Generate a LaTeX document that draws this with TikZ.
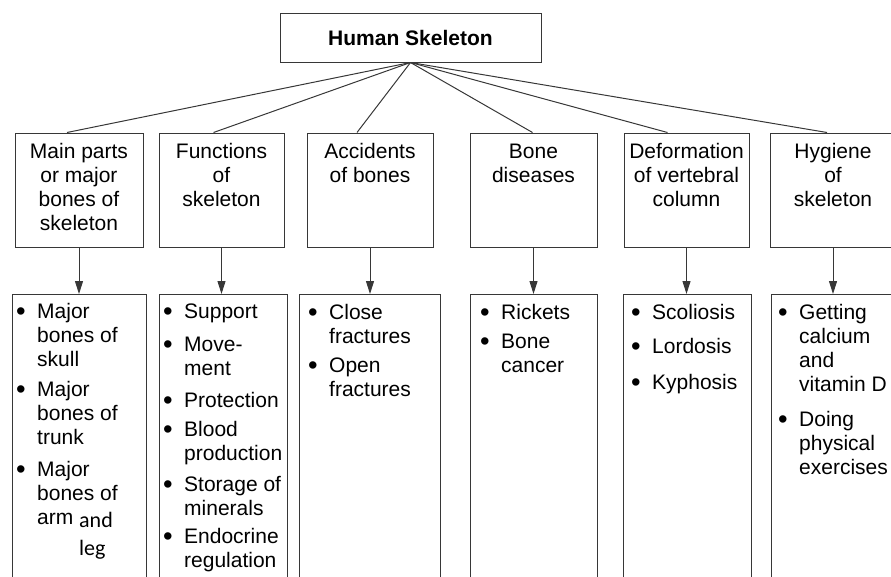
\documentclass[tikz,border=0pt]{standalone}
\usepackage{fontspec}
\setmainfont{Liberation Sans}
\newfontfamily\calibrifont{Carlito}
\usetikzlibrary{arrows.meta}
\definecolor{skLine}{RGB}{55,55,55}
\newlength{\bulw}
\setlength{\bulw}{21pt}
\newcommand{\itm}[1]{\makebox[\bulw][l]{\raisebox{-2.5pt}{\scalebox{1.3}{\textbullet}}}#1}
\newcommand{\cnt}[1]{\hspace*{\bulw}#1}
\tikzset{
  headbox/.style={rectangle, draw=skLine, line width=1pt, minimum width=261pt, minimum height=49pt, inner sep=0pt, font=\fontsize{21}{24}\selectfont\bfseries},
  topicbox/.style={rectangle, draw=skLine, line width=1pt, minimum width=#1, minimum height=114pt, inner sep=0pt},
  listbox/.style={rectangle, draw=skLine, line width=1pt, minimum width=#1, minimum height=310pt, anchor=north, inner sep=0pt},
  boxtext/.style={anchor=base, inner sep=0pt, font=\fontsize{21}{24}\selectfont},
  listtext/.style={anchor=base west, inner sep=0pt, font=\fontsize{21}{24}\selectfont},
  branch/.style={skLine, line width=1pt},
  downarrow/.style={-{Triangle[length=13pt,width=8pt]}, skLine, line width=1pt},
}

\begin{document}
\begin{tikzpicture}[x=1pt, y=-1pt]
  \useasboundingbox (0,0) rectangle (891,576);
  \clip (0,0) rectangle (891,576);

  % root
  \node[headbox] (head) at (410.5,37.5) {Human Skeleton};

  % topics
  \node[topicbox=128pt] (u1) at (79,190) {};
  \node[topicbox=125pt] (u2) at (221.5,190) {};
  \node[topicbox=126pt] (u3) at (370,190) {};
  \node[topicbox=127pt] (u4) at (533.5,190) {};
  \node[topicbox=125pt] (u5) at (686.5,190) {};
  \node[topicbox=126pt] (u6) at (833,190) {};

  \node[boxtext] (t1) at (79,158) {\parbox[t]{140pt}{\centering Main parts\\or major\\bones of\\skeleton}};
  \node[boxtext] (t2) at (221.5,158) {\parbox[t]{140pt}{\centering Functions\\of\\skeleton}};
  \node[boxtext] (t3) at (370,158) {\parbox[t]{140pt}{\centering Accidents\\of bones}};
  \node[boxtext] (t4) at (533.5,158) {\parbox[t]{140pt}{\centering Bone\\diseases}};
  \node[boxtext] (t5) at (686.5,158) {\parbox[t]{140pt}{\centering Deformation\\of vertebral\\column}};
  \node[boxtext] (t6) at (833,158) {\parbox[t]{140pt}{\centering Hygiene\\of\\skeleton}};

  % lists
  \node[listbox=134pt] (l1) at (79,294) {};
  \node[listbox=128pt] (l2) at (223,294) {};
  \node[listbox=141pt] (l3) at (369.5,294) {};
  \node[listbox=127pt] (l4) at (533.5,294) {};
  \node[listbox=128pt] (l5) at (687,294) {};
  \node[listbox=124pt] (l6) at (833,294) {};

  \node[listtext] (b1) at (16,318) {\parbox[t]{200pt}{\raggedright
    \itm{Major}\\ \cnt{bones of}\\ \cnt{skull}\\[6pt]
    \itm{Major}\\ \cnt{bones of}\\ \cnt{trunk}\\[8pt]
    \itm{Major}\\ \cnt{bones of}\\
    \cnt{arm {\calibrifont\fontsize{22}{24}\selectfont\raisebox{-3pt}{and}}}\\[7pt]
    \cnt{\hspace*{42pt}{\calibrifont\fontsize{22}{24}\selectfont leg}}}};
  \node[listtext] (b2) at (163,318) {\parbox[t]{200pt}{\raggedright
    \itm{Support}\\[9pt] \itm{Move-}\\ \cnt{ment}\\[8pt]
    \itm{Protection}\\[5pt] \itm{Blood}\\ \cnt{production}\\[7pt]
    \itm{Storage of}\\ \cnt{minerals}\\[4pt]
    \itm{Endocrine}\\ \cnt{regulation}}};
  \node[listtext] (b3) at (308,319) {\parbox[t]{200pt}{\raggedright
    \itm{Close}\\ \cnt{fractures}\\[5pt] \itm{Open}\\ \cnt{fractures}}};
  \node[listtext] (b4) at (480,319) {\parbox[t]{200pt}{\raggedright
    \itm{Rickets}\\[5pt] \itm{Bone}\\ \cnt{cancer}}};
  \node[listtext] (b5) at (631,319) {\parbox[t]{200pt}{\raggedright
    \itm{Scoliosis}\\[10pt] \itm{Lordosis}\\[12pt] \itm{Kyphosis}}};
  \node[listtext] (b6) at (778,319) {\parbox[t]{200pt}{\raggedright
    \itm{Getting}\\ \cnt{calcium}\\ \cnt{and}\\ \cnt{vitamin D}\\[11pt]
    \itm{Doing}\\ \cnt{physical}\\ \cnt{exercises}}};

  % connectors
  \foreach \b/\dx in {u1/-12, u2/-8, u3/-13, u4/-1, u5/-19, u6/-6}
    \draw[branch] (head.south) -- ([xshift=\dx pt]\b.north);
  \foreach \i in {1,...,6}
    \draw[downarrow] (u\i.south) -- (u\i.south |- l\i.north);
\end{tikzpicture}
\end{document}
